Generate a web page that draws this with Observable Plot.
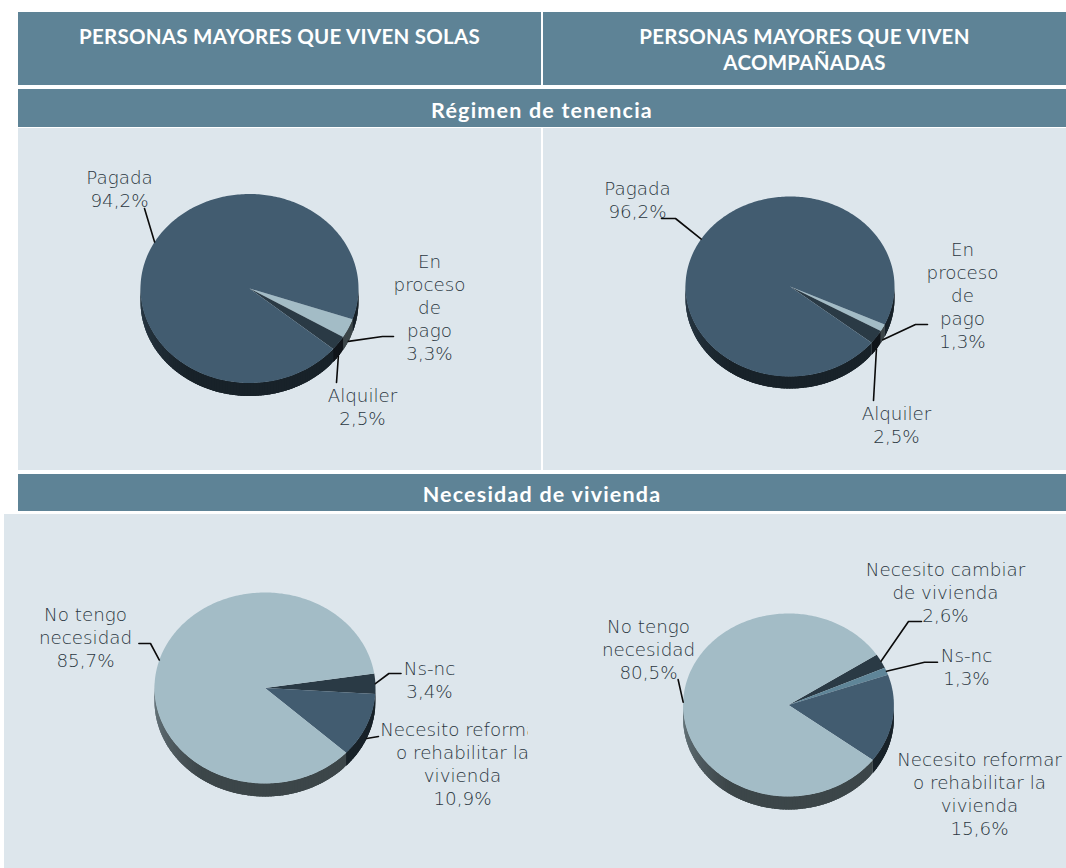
<!DOCTYPE html>
<html lang="es"><head><meta charset="utf-8">
<script src="https://cdn.jsdelivr.net/npm/d3@7"></script>
<script src="https://cdn.jsdelivr.net/npm/@observablehq/plot@0.6"></script>
<style>
html,body{margin:0;padding:0;background:#fff;overflow:hidden}
#page{position:relative;width:1066px;height:868px;overflow:hidden;font-family:Lato,sans-serif}
.band{position:absolute;background:#5e8396;color:#fff;font-weight:700;text-align:center;line-height:26px;box-sizing:border-box}
.bg{position:absolute;background:#dde6ec}
.panel{position:absolute}
.panel svg{display:block;background:transparent}
</style></head><body><div id="page"></div>
<script>
// --- data ---
const soloTenureNames = ["En\nproceso\nde\npago", "Alquiler", "Pagada"];
const soloTenureValues = [3.3, 2.5, 94.2];
const accompTenureNames = ["En\nproceso\nde\npago", "Alquiler", "Pagada"];
const accompTenureValues = [1.3, 2.5, 96.2];
const soloNeedNames = ["Ns-nc", "Necesito reformar\no rehabilitar la\nvivienda", "No tengo\nnecesidad"];
const soloNeedValues = [3.4, 10.9, 85.7];
const accompNeedNames = ["Necesito cambiar\nde vivienda", "Ns-nc", "Necesito reformar\no rehabilitar la\nvivienda", "No tengo\nnecesidad"];
const accompNeedValues = [2.6, 1.3, 15.6, 80.5];

// --- styles and layout ---
const C = {dark:"#425c70", light:"#a3bcc6", deep:"#2a3a45", mid:"#5f8598"};
const FONT = 18.3, LINE = 23;
const charts = [
 {names:soloTenureNames, values:soloTenureValues, colors:[C.light,C.deep,C.dark], start:19,
  cx:249, cy:288, rx:109, ry:94.5, depth:13, box:[18,128,523,342],
  labels:[[429,306.5],[362,406],[119,188]],
  elbows:[[[382,336],[393,336]],[[336,382]],[[144,208]]]},
 {names:accompTenureNames, values:accompTenureValues, colors:[C.light,C.deep,C.dark], start:25,
  cx:789.5, cy:286, rx:104.5, ry:90, depth:12, box:[543,128,523,342],
  labels:[[962,294.5],[896,424],[637,199]],
  elbows:[[[915,324],[927,324]],[[873,400]],[[675,218],[661,218]]]},
 {names:soloNeedNames, values:soloNeedValues, colors:[C.deep,C.dark,C.light], start:-8.7,
  cx:264.5, cy:687.5, rx:110.5, ry:95.5, depth:13, box:[4,514,524,354],
  labels:[[429,679],[462,763],[85,636.5]],
  elbows:[[[388.4,673],[400.5,673]],[[378,736]],[[150,643],[138.4,643]]]},
 {names:accompNeedNames, values:accompNeedValues, colors:[C.deep,C.mid,C.dark,C.light], start:-33.3,
  cx:788, cy:704.5, rx:105.4, ry:91.5, depth:13, box:[528,514,538,354],
  labels:[[945,591.5],[966,666],[979,792.5],[648,648.5]],
  elbows:[[[908,621],[921,621]],[[924,661.7],[937,661.7]],null,[[677.6,679]]]}
];
const bands = [
 {box:[18,12,523,73], lines:["PERSONAS MAYORES QUE VIVEN SOLAS"], pad:11, size:20.5, ls:0.25},
 {box:[543,12,523,73], lines:["PERSONAS MAYORES QUE VIVEN","ACOMPAÑADAS"], pad:11, size:20.5, ls:0.25},
 {box:[18,89,1048,38], lines:["Régimen de tenencia"], pad:8, size:21.5, ls:1.2},
 {box:[18,474,1048,37], lines:["Necesidad de vivienda"], pad:7, size:21.5, ls:1.2}
];
const backgrounds = [[18,128,523,342],[543,128,523,342],[4,514,1062,354]];

// --- helpers ---
const rad = d => d*Math.PI/180;
const shade = (color, f) => { const c=d3.rgb(color); return d3.rgb(c.r*f,c.g*f,c.b*f).formatHex(); };
const wallShade = a => a<125 ? 0.37 : 0.37 + (a-125)/55*0.28;   // a: 0..180 degrees

function geometry(ch){
  const top=[], wall=[], leaders=[], texts=[];
  let a0 = ch.start;
  const total = d3.sum(ch.values);
  ch.values.forEach((v,i)=>{
    const a1 = a0 + v/total*360, id=`s${i}`;
    const pt = (a,dy=0)=>({x:ch.cx+ch.rx*Math.cos(rad(a)), y:ch.cy+ch.ry*Math.sin(rad(a))+dy});
    top.push({x:ch.cx,y:ch.cy,id,color:ch.colors[i]});
    for(let a=a0;;a=Math.min(a+1,a1)){ top.push({...pt(a),id,color:ch.colors[i]}); if(a>=a1) break; }
    // side wall: overlapping shaded strips, so no seams show between them
    for(let a=a0;a<a1;a+=1.5){
      const b=Math.min(a+4,a1), n=((a+0.75)%360+360)%360;
      if(n>181) continue;
      const col=shade(ch.colors[i],wallShade(Math.min(n,180))), sid=`w${i}-${a}`;
      [pt(a),pt(b),pt(b,ch.depth),pt(a,ch.depth)].forEach(p=>wall.push({...p,id:sid,color:col}));
    }
    const mid=(a0+a1)/2, front=Math.sin(rad(mid))>0;
    if(ch.elbows[i]){
      const start=pt(mid,front?ch.depth:0);
      [start,...ch.elbows[i].map(([x,y])=>({x,y}))].forEach(p=>leaders.push({...p,id:`l${i}`}));
    }
    texts.push({x:ch.labels[i][0],y:ch.labels[i][1],
      text:`${ch.names[i]}\n${v.toFixed(1).replace(".",",")}%`});
    a0=a1;
  });
  return {top,wall,leaders,texts};
}

const page=document.getElementById("page");
backgrounds.forEach(([l,t,w,h])=>{const d=document.createElement("div");d.className="bg";
  d.style.cssText=`left:${l}px;top:${t}px;width:${w}px;height:${h}px`;page.appendChild(d);});
bands.forEach(b=>{const d=document.createElement("div");d.className="band";const [l,t,w,h]=b.box;
  d.style.cssText=`left:${l}px;top:${t}px;width:${w}px;height:${h}px;padding-top:${b.pad}px;font-size:${b.size}px;letter-spacing:${b.ls}px`;
  d.innerHTML=b.lines.join("<br>");page.appendChild(d);});

charts.forEach(ch=>{
  const [l,t,w,h]=ch.box, g=geometry(ch);
  const plot=Plot.plot({
    width:w,height:h,margin:0,
    x:{domain:[l,l+w],range:[0,w],axis:null},
    y:{domain:[t,t+h],range:[0,h],axis:null},
    color:{type:"identity"},
    style:{background:"transparent"},
    marks:[
      Plot.line(g.wall,{x:"x",y:"y",z:"id",fill:"color",stroke:"none",curve:"linear-closed"}),
      Plot.line(g.top,{x:"x",y:"y",z:"id",fill:"color",stroke:"none",curve:"linear-closed"}),
      Plot.line(g.leaders,{x:"x",y:"y",z:"id",stroke:"#0b0b0b",strokeWidth:1.6}),
      Plot.text(g.texts,{x:"x",y:"y",text:"text",textAnchor:"middle",lineAnchor:"middle",
        fontSize:FONT,lineHeight:LINE/FONT,fill:"#2b3741",fontFamily:"'DejaVu Sans', sans-serif",fontWeight:200})
    ]
  });
  const d=document.createElement("div");d.className="panel";
  d.style.cssText=`left:${l}px;top:${t}px;width:${w}px;height:${h}px`;
  d.appendChild(plot);page.appendChild(d);
});
</script></body></html>
